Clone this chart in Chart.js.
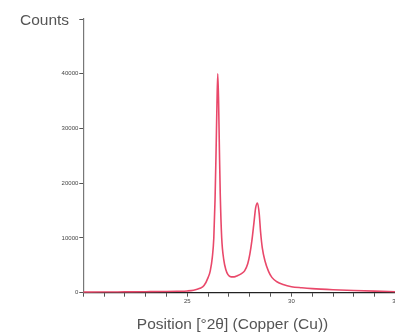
<!DOCTYPE html>
<html>
<head>
<meta charset="utf-8">
<script src="https://cdn.jsdelivr.net/npm/chart.js@4"></script>
<style>
  html, body { margin: 0; padding: 0; background: #fff; overflow: hidden; }
  #wrap { width: 395px; height: 336px; overflow: hidden; }
</style>
</head>
<body>
<div id="wrap"><canvas id="xrd" width="420" height="336"></canvas></div>
<script>
// Diffrattogramma: posizione 2θ vs conteggi
const positions = [20, 21, 22, 23, 24, 24.5, 25, 25.3, 25.6, 25.8, 26.0, 26.1, 26.2, 26.27, 26.33, 26.38, 26.42, 26.46,
  26.5, 26.54, 26.58, 26.65, 26.75, 26.85, 26.95, 27.1, 27.25, 27.4, 27.6, 27.75, 27.9, 28.0, 28.1, 28.2, 28.28, 28.37,
  28.45, 28.52, 28.6, 28.73, 28.9, 29.06, 29.3, 29.6, 30, 30.5, 31, 32, 33, 34, 35];
const counts = [100, 120, 150, 180, 220, 260, 320, 450, 800, 1300, 2800, 4000, 6500, 10000, 17000, 26000, 34000, 40000,
  35000, 26000, 18000, 10000, 6000, 4200, 3300, 2900, 2900, 3100, 3500, 4000, 5300, 7000, 9500, 12800, 15500, 16400,
  14500, 11000, 8200, 5800, 3900, 2800, 2000, 1500, 1100, 900, 750, 550, 400, 280, 180];

const xTickLabels = [25, 30, 35];
const yTickLabels = [0, 10000, 20000, 30000, 40000];
const yTitle = 'Counts';
const xTitle = 'Position [°2θ] (Copper (Cu))';

const FONT = '"Liberation Sans", Arial, Helvetica, sans-serif';

// titoli disegnati a mano: "Counts" orizzontale in alto a sinistra
const titlesPlugin = {
  id: 'titles',
  afterDraw(c) {
    const ctx = c.ctx;
    ctx.save();
    ctx.fillStyle = '#555';
    ctx.font = '15.5px ' + FONT;
    ctx.textBaseline = 'alphabetic';
    ctx.textAlign = 'left';
    ctx.fillText(yTitle, 20, 25);
    ctx.textAlign = 'center';
    ctx.fillText(xTitle, 232.5, 329);
    ctx.restore();
  }
};

const points = positions.map((x, i) => ({ x: x, y: counts[i] }));

new Chart(document.getElementById('xrd'), {
  type: 'line',
  data: {
    datasets: [{
      data: points,
      borderColor: '#e9486a',
      borderWidth: 1.6,
      pointRadius: 0,
      fill: false,
      cubicInterpolationMode: 'monotone'
    }]
  },
  options: {
    responsive: false,
    animation: false,
    devicePixelRatio: 1,
    layout: { padding: { top: 19, right: 24.5, left: 0, bottom: 0 } },
    plugins: { legend: { display: false }, tooltip: { enabled: false } },
    scales: {
      x: {
        type: 'linear',
        min: 20,
        max: 35,
        ticks: {
          stepSize: 1,
          autoSkip: false,
          maxRotation: 0,
          color: '#444',
          font: { size: 6, family: FONT },
          padding: 1,
          callback: (v) => xTickLabels.includes(v) ? String(v) : ''
        },
        grid: { drawOnChartArea: false, drawTicks: true, tickLength: 4, tickColor: '#555' },
        border: { color: '#222', width: 1.2 },
        afterFit: (s) => { s.height = 43.3; }
      },
      y: {
        min: 0,
        max: 50000,
        ticks: {
          stepSize: 10000,
          color: '#444',
          font: { size: 6, family: FONT },
          padding: 1,
          callback: (v) => yTickLabels.includes(v) ? String(v) : ''
        },
        grid: { drawOnChartArea: false, drawTicks: true, tickLength: 4, tickColor: '#555' },
        border: { color: '#777', width: 1.2 },
        afterFit: (s) => { s.width = 83.3; }
      }
    }
  },
  plugins: [titlesPlugin]
});
</script>
</body>
</html>
